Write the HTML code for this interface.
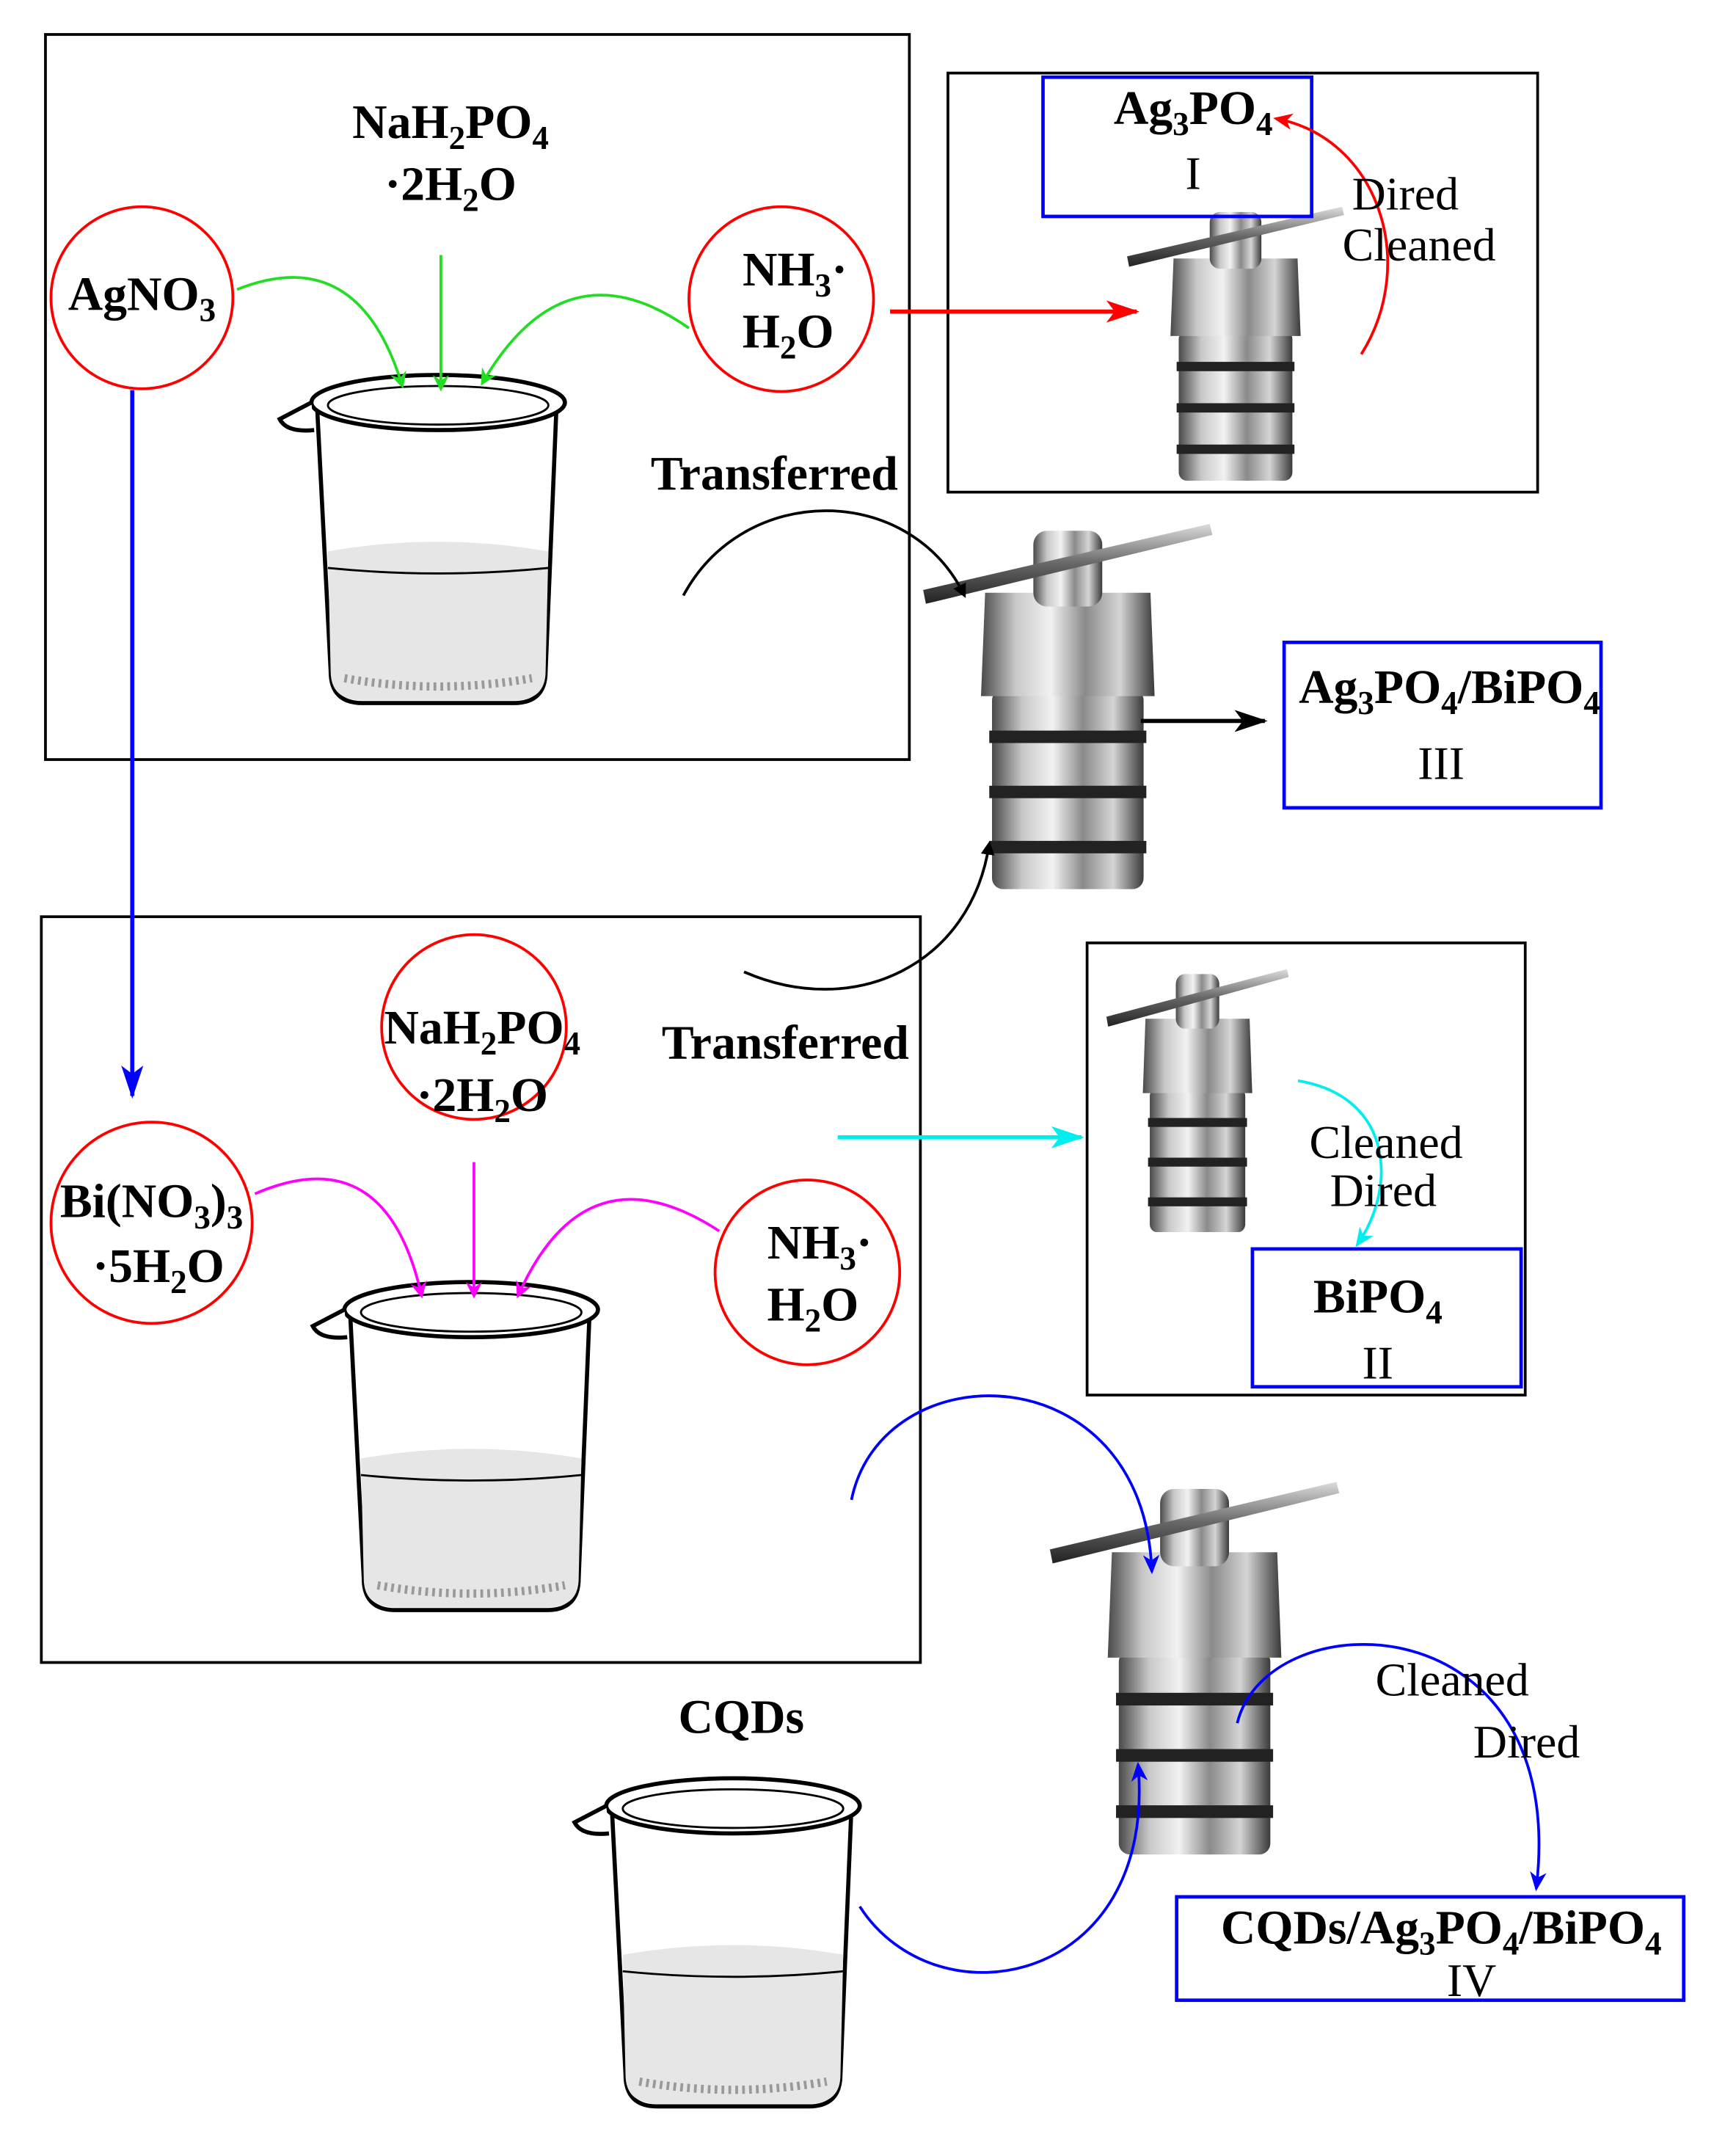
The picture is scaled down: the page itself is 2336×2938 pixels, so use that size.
<!DOCTYPE html>
<html><head><meta charset="utf-8"><style>
html,body{margin:0;padding:0;background:#fff;}
svg{display:block;}
text{font-family:"Liberation Serif",serif;}
.b{font-weight:bold;font-size:35px;}
.n{font-size:34px;}
</style></head><body>
<svg width="2336" height="2938" viewBox="0 0 1244 1564" preserveAspectRatio="none" xmlns="http://www.w3.org/2000/svg">
<defs>
<linearGradient id="m" x1="0" x2="1" y1="0" y2="0">
<stop offset="0" stop-color="#4a4a4a"/><stop offset="0.2" stop-color="#c8c8c8"/><stop offset="0.4" stop-color="#f2f2f2"/><stop offset="0.6" stop-color="#8a8a8a"/><stop offset="0.8" stop-color="#d5d5d5"/><stop offset="1" stop-color="#3a3a3a"/>
</linearGradient>
<linearGradient id="h" x1="0" x2="0" y1="0" y2="1"><stop offset="0" stop-color="#ddd"/><stop offset="0.5" stop-color="#666"/><stop offset="1" stop-color="#222"/></linearGradient>
<marker id="ak" markerWidth="10" markerHeight="10" refX="8" refY="5" orient="auto" markerUnits="userSpaceOnUse"><path d="M0,0 L10,5 L0,10 z" fill="#000"/></marker>
<marker id="ag" markerWidth="12" markerHeight="12" refX="10" refY="6" orient="auto" markerUnits="userSpaceOnUse"><path d="M0,0 L12,6 L0,12 L4,6z" fill="#2d2"/></marker>
<marker id="amg" markerWidth="12" markerHeight="12" refX="10" refY="6" orient="auto" markerUnits="userSpaceOnUse"><path d="M0,0 L12,6 L0,12 L4,6z" fill="#f0f"/></marker>
<marker id="ar" markerWidth="24" markerHeight="16" refX="22" refY="8" orient="auto" markerUnits="userSpaceOnUse"><path d="M0,0 L24,8 L0,16 L6,8z" fill="#f00"/></marker>
<marker id="ar2" markerWidth="14" markerHeight="12" refX="12" refY="6" orient="auto" markerUnits="userSpaceOnUse"><path d="M0,0 L14,6 L0,12 L4,6z" fill="#f00"/></marker>
<marker id="abk" markerWidth="24" markerHeight="16" refX="22" refY="8" orient="auto" markerUnits="userSpaceOnUse"><path d="M0,0 L24,8 L0,16 L6,8z" fill="#000"/></marker>
<marker id="ac" markerWidth="24" markerHeight="16" refX="22" refY="8" orient="auto" markerUnits="userSpaceOnUse"><path d="M0,0 L24,8 L0,16 L6,8z" fill="#0ee"/></marker>
<marker id="ac2" markerWidth="14" markerHeight="12" refX="12" refY="6" orient="auto" markerUnits="userSpaceOnUse"><path d="M0,0 L14,6 L0,12 L4,6z" fill="#0ee"/></marker>
<marker id="abl" markerWidth="24" markerHeight="16" refX="22" refY="8" orient="auto" markerUnits="userSpaceOnUse"><path d="M0,0 L24,8 L0,16 L6,8z" fill="#00f"/></marker>
<marker id="ab2" markerWidth="14" markerHeight="12" refX="12" refY="6" orient="auto" markerUnits="userSpaceOnUse"><path d="M0,0 L14,6 L0,12 L4,6z" fill="#00f"/></marker>
<g id="reactor">
<rect x="50" y="120" width="110" height="145" rx="8" fill="url(#m)"/>
<path d="M45,50 L165,50 L168,125 L42,125 z" fill="url(#m)"/>
<rect x="48" y="150" width="114" height="9" fill="#222"/>
<rect x="48" y="190" width="114" height="9" fill="#222"/>
<rect x="48" y="230" width="114" height="9" fill="#222"/>
<rect x="80" y="5" width="50" height="55" rx="10" fill="url(#m)"/>
<path d="M0,48 L208,0 L210,8 L2,58 z" fill="url(#h)"/>
</g>
<g id="beaker">
<path d="M-88,10 L-78,205 Q-78,228 -55,228 L55,228 Q78,228 78,205 L86,10" fill="#fff" stroke="#000" stroke-width="3"/>
<path d="M-80,118 Q0,104 80,118 L78,205 Q78,226 55,226 L-55,226 Q-78,226 -78,205 z" fill="#e6e6e6"/>
<path d="M-80,130 Q0,138 80,130" fill="none" stroke="#000" stroke-width="1.5"/>
<path d="M-68,210 Q0,222 68,210" fill="none" stroke="#999" stroke-width="6" stroke-dasharray="2 3"/>
<ellipse cx="0" cy="10" rx="92" ry="20" fill="#fff" stroke="#000" stroke-width="3"/>
<path d="M-92,10 L-115,22 Q-110,32 -90,30" fill="#fff" stroke="#000" stroke-width="3"/>
<ellipse cx="0" cy="12" rx="80" ry="14" fill="none" stroke="#000" stroke-width="1.5"/>
</g>
</defs>

<rect x="33" y="25" width="627" height="526" fill="none" stroke="#000" stroke-width="2"/>
<rect x="30" y="665" width="638" height="541" fill="none" stroke="#000" stroke-width="2"/>
<rect x="688" y="53" width="428" height="304" fill="none" stroke="#000" stroke-width="2"/>
<rect x="789" y="684" width="318" height="328" fill="none" stroke="#000" stroke-width="2"/>

<use href="#beaker" transform="translate(318,282)"/>
<use href="#beaker" transform="translate(342,940)"/>
<use href="#beaker" transform="translate(532,1300)"/>

<use href="#reactor" transform="translate(818,150) scale(0.75,0.75)"/>
<use href="#reactor" transform="translate(670,380) scale(1,1)"/>
<use href="#reactor" transform="translate(803,703) scale(0.63,0.72)"/>
<use href="#reactor" transform="translate(762,1075) scale(1,1.02)"/>

<rect x="757" y="56" width="195" height="101" fill="none" stroke="#00f" stroke-width="2.5"/>
<rect x="932" y="466" width="230" height="120" fill="none" stroke="#00f" stroke-width="2.5"/>
<rect x="909" y="906" width="195" height="100" fill="none" stroke="#00f" stroke-width="2.5"/>
<rect x="854" y="1376" width="368" height="75" fill="none" stroke="#00f" stroke-width="2.5"/>

<circle cx="103" cy="216" r="66" fill="none" stroke="#f00" stroke-width="2"/>
<circle cx="567" cy="217" r="67" fill="none" stroke="#f00" stroke-width="2"/>
<circle cx="344" cy="745" r="67" fill="none" stroke="#f00" stroke-width="2"/>
<circle cx="110" cy="887" r="73" fill="none" stroke="#f00" stroke-width="2"/>
<circle cx="586" cy="923" r="67" fill="none" stroke="#f00" stroke-width="2"/>

<path d="M172,210 Q260,175 292,280" fill="none" stroke="#2d2" stroke-width="2" marker-end="url(#ag)"/>
<path d="M320,185 L320,282" fill="none" stroke="#2d2" stroke-width="2" marker-end="url(#ag)"/>
<path d="M500,238 Q410,175 350,278" fill="none" stroke="#2d2" stroke-width="2" marker-end="url(#ag)"/>
<path d="M185,866 Q280,825 306,940" fill="none" stroke="#f0f" stroke-width="2" marker-end="url(#amg)"/>
<path d="M344,843 L344,940" fill="none" stroke="#f0f" stroke-width="2" marker-end="url(#amg)"/>
<path d="M522,893 Q425,830 376,940" fill="none" stroke="#f0f" stroke-width="2" marker-end="url(#amg)"/>
<path d="M96,283 L96,795" stroke="#00f" stroke-width="3" fill="none" marker-end="url(#abl)"/>
<path d="M646,226 L825,226" stroke="#f00" stroke-width="3" fill="none" marker-end="url(#ar)"/>
<path d="M988,257 C1030,190 1000,100 926,86" stroke="#f00" stroke-width="2" fill="none" marker-end="url(#ar2)"/>
<path d="M828,523 L918,523" stroke="#000" stroke-width="3" fill="none" marker-end="url(#abk)"/>
<path d="M496,432 C540,350 660,350 700,432" stroke="#000" stroke-width="2" fill="none" marker-end="url(#ak)"/>
<path d="M540,705 C620,740 705,700 718,612" stroke="#000" stroke-width="2" fill="none" marker-end="url(#ak)"/>
<path d="M608,825 L785,825" stroke="#0ee" stroke-width="3" fill="none" marker-end="url(#ac)"/>
<path d="M942,784 C1010,795 1015,860 985,903" stroke="#0ee" stroke-width="2" fill="none" marker-end="url(#ac2)"/>
<path d="M618,1088 C640,980 830,980 836,1140" stroke="#00f" stroke-width="2" fill="none" marker-end="url(#ab2)"/>
<path d="M624,1383 C680,1470 840,1440 826,1280" stroke="#00f" stroke-width="2" fill="none" marker-end="url(#ab2)"/>
<path d="M898,1250 C920,1160 1140,1160 1115,1370" stroke="#00f" stroke-width="2" fill="none" marker-end="url(#ab2)"/>

<g text-anchor="middle">
<text class="b" x="327" y="100">NaH<tspan font-size="24" dy="8">2</tspan><tspan dy="-8">PO</tspan><tspan font-size="24" dy="8">4</tspan></text>
<text class="b" x="327" y="145">·2H<tspan font-size="24" dy="8">2</tspan><tspan dy="-8">O</tspan></text>
<text class="b" x="103" y="225">AgNO<tspan font-size="24" dy="8">3</tspan></text>
<text class="b" x="577" y="207">NH<tspan font-size="24" dy="8">3</tspan><tspan dy="-8">·</tspan></text>
<text class="b" x="572" y="252">H<tspan font-size="24" dy="8">2</tspan><tspan dy="-8">O</tspan></text>
<text class="b" x="562" y="355">Transferred</text>
<text class="b" x="866" y="90">Ag<tspan font-size="24" dy="8">3</tspan><tspan dy="-8">PO</tspan><tspan font-size="24" dy="8">4</tspan></text>
<text class="n" x="866" y="137">I</text>
<text class="n" x="1020" y="152">Dired</text>
<text class="n" x="1030" y="189">Cleaned</text>
<text class="b" x="1052" y="510">Ag<tspan font-size="24" dy="8">3</tspan><tspan dy="-8">PO</tspan><tspan font-size="24" dy="8">4</tspan><tspan dy="-8">/BiPO</tspan><tspan font-size="24" dy="8">4</tspan></text>
<text class="n" x="1046" y="565">III</text>
<text class="b" x="350" y="757">NaH<tspan font-size="24" dy="8">2</tspan><tspan dy="-8">PO</tspan><tspan font-size="24" dy="8">4</tspan></text>
<text class="b" x="350" y="806">·2H<tspan font-size="24" dy="8">2</tspan><tspan dy="-8">O</tspan></text>
<text class="b" x="570" y="768">Transferred</text>
<text class="b" x="110" y="883">Bi(NO<tspan font-size="24" dy="8">3</tspan><tspan dy="-8">)</tspan><tspan font-size="24" dy="8">3</tspan></text>
<text class="b" x="115" y="930">·5H<tspan font-size="24" dy="8">2</tspan><tspan dy="-8">O</tspan></text>
<text class="b" x="595" y="913">NH<tspan font-size="24" dy="8">3</tspan><tspan dy="-8">·</tspan></text>
<text class="b" x="590" y="958">H<tspan font-size="24" dy="8">2</tspan><tspan dy="-8">O</tspan></text>
<text class="n" x="1006" y="840">Cleaned</text>
<text class="n" x="1004" y="875">Dired</text>
<text class="b" x="1000" y="952">BiPO<tspan font-size="24" dy="8">4</tspan></text>
<text class="n" x="1000" y="1000">II</text>
<text class="b" x="538" y="1257">CQDs</text>
<text class="n" x="1054" y="1230">Cleaned</text>
<text class="n" x="1108" y="1275">Dired</text>
<text class="b" x="1046" y="1410">CQDs/Ag<tspan font-size="24" dy="8">3</tspan><tspan dy="-8">PO</tspan><tspan font-size="24" dy="8">4</tspan><tspan dy="-8">/BiPO</tspan><tspan font-size="24" dy="8">4</tspan></text>
<text class="n" x="1068" y="1448">IV</text>
</g>
</svg>
</body></html>
